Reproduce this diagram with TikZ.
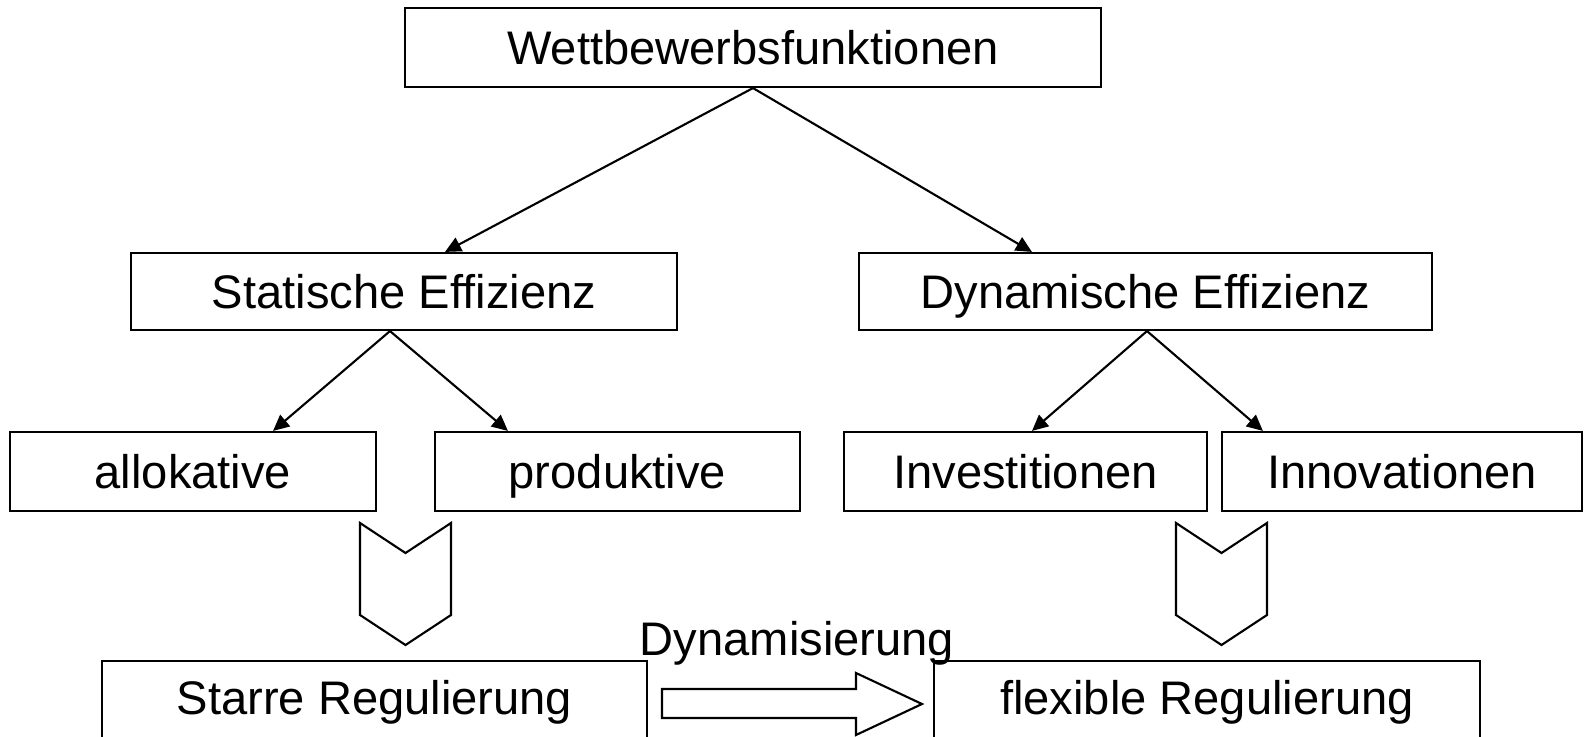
\documentclass[tikz,border=0pt]{standalone}
\usepackage{fontspec}
\setmainfont{Liberation Sans}
\usetikzlibrary{arrows.meta}
\usetikzlibrary{positioning}

\begin{document}
\begin{tikzpicture}[x=0.01cm, y=-0.01cm, line width=0.6pt,
  font=\fontsize{13.4}{16}\selectfont,
  box/.style={draw, rectangle, inner sep=0pt, minimum height=0.79cm, text height=0.34cm, text depth=0cm},
  >={Triangle[length=0.16cm, width=0.15cm]}]
\useasboundingbox (0,0) rectangle (1584,737);
% boxes
\node at (753,47.5) [box, name=Wett, minimum width=6.96cm]{Wettbewerbsfunktionen};
\node at (404,291.5) [box, name=Stat, minimum width=5.46cm, minimum height=0.77cm]{Statische Effizienz};
\node at (1145.5,291.5) [box, name=Dyn, minimum width=5.73cm, minimum height=0.77cm]{Dynamische Effizienz};
\node at (193,471.5) [box, name=Allo, minimum width=3.66cm]{allokative};
\node at (617.5,471.5) [box, name=Prod, minimum width=3.65cm]{produktive};
\node at (1025.5,471.5) [box, name=Inv, minimum width=3.63cm]{Investitionen};
\node at (1402,471.5) [box, name=Inno, minimum width=3.6cm]{Innovationen};
\node at (374.5,700.5) [box, name=Starr, minimum width=5.45cm, text depth=0.06cm]{Starre Regulierung};
\node at (1207,700.5) [box, name=Flex, minimum width=5.46cm, text depth=0.06cm]{flexible Regulierung};
% arrows
\draw [->] (Wett.south) -- ([xshift=0.41cm]Stat.north);
\draw [->] (Wett.south) -- ([xshift=-1.135cm]Dyn.north);
\draw [->] ([xshift=-0.14cm]Stat.south) -- ([xshift=0.8cm]Allo.north);
\draw [->] ([xshift=-0.14cm]Stat.south) -- ([xshift=-1.095cm]Prod.north);
\draw [->] ([xshift=0.015cm]Dyn.south) -- ([xshift=0.065cm]Inv.north);
\draw [->] ([xshift=0.015cm]Dyn.south) -- ([xshift=-1.39cm]Inno.north);
% chevrons
\foreach \cx in {405.5,1221.5}
  \draw (\cx-45.5,523) -- (\cx,553) -- (\cx+45.5,523) -- (\cx+45.5,615) -- (\cx,645) -- (\cx-45.5,615) -- cycle;
% block arrow
\draw (662,689) -- (856,689) -- (856,673) -- (922,704) -- (856,735) -- (856,718) -- (662,718) -- cycle;
\node at (797,656) [anchor=base, inner sep=0pt, name=Dynam]{Dynamisierung};
\end{tikzpicture}
\end{document}
